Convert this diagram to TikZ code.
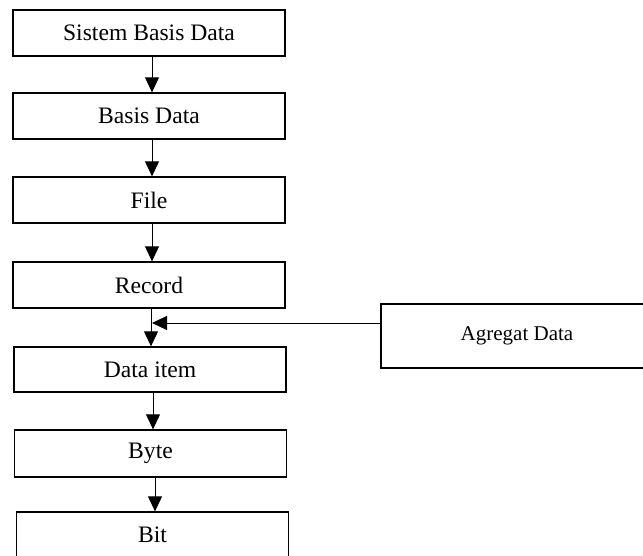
\documentclass[tikz,border=0pt]{standalone}
\usepackage{fontspec}
\setmainfont{Liberation Serif}
\usetikzlibrary{arrows.meta}
\begin{document}
\begin{tikzpicture}[x=1pt,y=-1pt,
  levelbox/.style={draw, line width=1.3pt, minimum width=272pt, minimum height=46pt,
    inner sep=0pt, font=\fontsize{23.6}{28}\selectfont},
  sidebox/.style={draw, line width=1.3pt, minimum width=272pt, minimum height=64pt,
    inner sep=0pt, font=\fontsize{21}{25}\selectfont},
  flow/.style={line width=1pt, -{Triangle[width=14pt,length=15pt]}}]
\useasboundingbox (0,0) rectangle (643,556);
\clip (0,0) rectangle (643,556);
% hierarchy of data levels
\node[levelbox] (sbd)    at (149,33)    {Sistem Basis Data};
\node[levelbox] (bd)     at (149,116)   {Basis Data};
\node[levelbox] (file)   at (149,200)   {File};
\node[levelbox] (record) at (149,285)   {Record};
\node[levelbox, minimum height=45pt] (item) at (150,369.5) {Data item};
\node[levelbox, minimum height=47pt] (byte) at (150.5,453.5) {Byte};
\node[levelbox] (bit)    at (152.5,535) {Bit};
% aggregate box on the right
\node[sidebox] (agg) at (517,336) {Agregat Data};
% connectors
\draw[flow] ([xshift=3pt]sbd.south)    -- ([xshift=3pt]bd.north);
\draw[flow] ([xshift=3pt]bd.south)     -- ([xshift=3pt]file.north);
\draw[flow] ([xshift=3pt]file.south)   -- ([xshift=3pt]record.north);
\draw[flow] ([xshift=2pt]record.south) -- ([xshift=1pt]item.north) coordinate (join);
\draw[flow] ([xshift=3pt]item.south)   -- ([xshift=2.5pt]byte.north);
\draw[flow] ([xshift=4.5pt]byte.south) -- ([xshift=2.5pt]bit.north);
\coordinate (hit) at (152,323);
\draw[flow] (agg.west |- hit) -- (hit);
\end{tikzpicture}
\end{document}
